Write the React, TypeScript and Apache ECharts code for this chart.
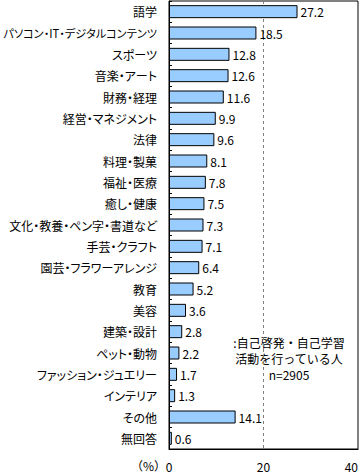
import React, { useEffect, useRef } from "react";
import * as echarts from "echarts";

const categories = [
  "語学",
  "パソコン・IT・デジタルコンテンツ",
  "スポーツ",
  "音楽・アート",
  "財務・経理",
  "経営・マネジメント",
  "法律",
  "料理・製菓",
  "福祉・医療",
  "癒し・健康",
  "文化・教養・ペン字・書道など",
  "手芸・クラフト",
  "園芸・フラワーアレンジ",
  "教育",
  "美容",
  "建築・設計",
  "ペット・動物",
  "ファッション・ジュエリー",
  "インテリア",
  "その他",
  "無回答",
];

const values = [27.2, 18.5, 12.8, 12.6, 11.6, 9.9, 9.6, 8.1, 7.8, 7.5, 7.3, 7.1, 6.4, 5.2, 3.6, 2.8, 2.2, 1.7, 1.3, 14.1, 0.6];

const xTicks = [0, 20, 40];
const noteLines = [":自己啓発・自己学習", "活動を行っている人", "n=2905"];
const unitLabel = "（%）";

const FONT = '"Noto Sans CJK JP", sans-serif';

export default function App() {
  const ref = useRef<HTMLDivElement>(null);
  useEffect(() => {
    if (!ref.current) return;
    const chart = echarts.init(ref.current, undefined, { renderer: "svg" });
    chart.setOption({
      animation: false,
      textStyle: { fontFamily: FONT },
      grid: {
        left: 169,
        right: 4,
        top: 1,
        bottom: 25,
        show: true,
        borderColor: "#000",
        borderWidth: 1,
        backgroundColor: "transparent",
        containLabel: false,
        outerBoundsMode: "none",
      },
      xAxis: {
        type: "value",
        min: xTicks[0],
        max: xTicks[xTicks.length - 1],
        interval: 20,
        axisLine: { show: true, lineStyle: { color: "#000", width: 1 } },
        axisTick: { show: false },
        axisLabel: {
          color: "#000",
          fontSize: 12,
          fontFamily: FONT,
          margin: 11,
          alignMaxLabel: "right",
        },
        splitLine: {
          show: true,
          lineStyle: { color: "#808080", type: [3, 3], width: 1 },
        },
      },
      yAxis: {
        type: "category",
        inverse: true,
        data: categories.map((c) =>
          c.length > 15 ? { value: c, textStyle: { fontSize: 11.2 } } : c
        ),
        axisLine: { show: true, lineStyle: { color: "#000", width: 1 } },
        axisTick: { show: true, inside: true, length: 3, lineStyle: { color: "#000" } },
        axisLabel: {
          color: "#000",
          fontSize: 12,
          fontFamily: FONT,
          margin: 12,
          interval: 0,
        },
        splitLine: { show: false },
      },
      series: [
        {
          type: "bar",
          data: values,
          barWidth: 13,
          itemStyle: { color: "#99CCFF", borderColor: "#000", borderWidth: 1 },
          label: {
            show: true,
            position: "right",
            distance: 3,
            color: "#000",
            fontSize: 12,
            fontFamily: FONT,
          },
        },
      ],
      graphic: [
        {
          type: "text",
          left: 131,
          top: 459,
          style: { text: unitLabel, fill: "#000", font: `12px ${FONT}` },
        },
        {
          type: "rect",
          shape: { x: 258, y: 334, width: 12, height: 48 },
          style: { fill: "#fff" },
        },
        ...noteLines.map((t, i) => ({
          type: "text",
          x: 289,
          y: 342 + i * 16,
          style: {
            text: t,
            fill: "#000",
            font: `12px ${FONT}`,
            align: "center",
            verticalAlign: "middle",
          },
        })),
      ],
    });
    return () => chart.dispose();
  }, []);
  return (
    <div
      ref={ref}
      style={{
        position: "absolute",
        left: 0,
        top: 0,
        width: 362,
        height: 474,
        background: "#fff",
        fontFeatureSettings: '"palt"',
      }}
    />
  );
}
